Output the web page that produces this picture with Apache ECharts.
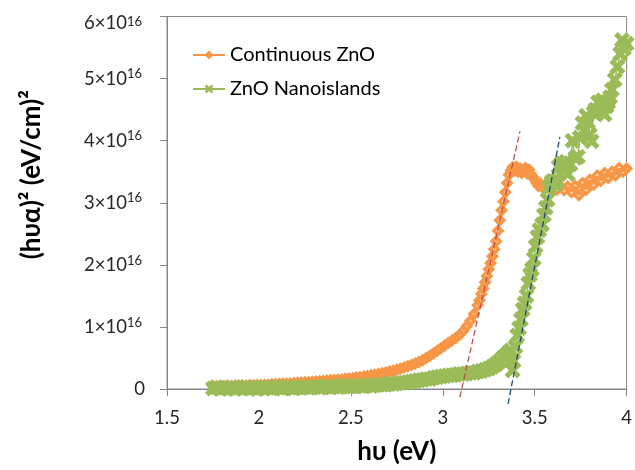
<!DOCTYPE html>
<html><head><meta charset="utf-8">
<script src="https://cdn.jsdelivr.net/npm/echarts@6/dist/echarts.min.js"></script>
<style>html,body{margin:0;padding:0;background:#fff}#c{width:635px;height:470px}</style>
</head><body><div id="c"></div>
<script>
// values in units of 1e16 (eV/cm)^2
const continuousName = 'Continuous ZnO';
const continuousX = [1.75,1.77,1.79,1.81,1.83,1.85,1.87,1.89,1.91,1.93,1.95,1.97,1.99,2.01,2.03,2.05,2.07,2.09,2.11,2.13,2.15,2.17,2.19,2.21,2.23,2.25,2.27,2.29,2.31,2.33,2.35,2.37,2.39,2.41,2.43,2.45,2.47,2.49,2.51,2.53,2.55,2.57,2.59,2.61,2.63,2.65,2.67,2.69,2.71,2.73,2.75,2.77,2.79,2.81,2.83,2.85,2.87,2.89,2.91,2.93,2.95,2.97,2.99,3.01,3.03,3.05,3.07,3.09,3.11,3.13,3.15,3.17,3.19,3.20,3.21,3.22,3.23,3.24,3.25,3.26,3.27,3.28,3.29,3.30,3.31,3.32,3.33,3.34,3.35,3.36,3.37,3.38,3.39,3.40,3.41,3.42,3.43,3.44,3.45,3.46,3.47,3.48,3.49,3.50,3.51,3.52,3.53,3.54,3.56,3.58,3.60,3.62,3.64,3.66,3.68,3.70,3.72,3.74,3.76,3.78,3.80,3.82,3.84,3.86,3.88,3.90,3.92,3.94,3.96,3.98,4.00];
const continuousY = [0.045,0.045,0.045,0.045,0.05,0.05,0.05,0.055,0.055,0.055,0.06,0.06,0.065,0.065,0.065,0.07,0.075,0.075,0.08,0.085,0.085,0.09,0.095,0.10,0.105,0.11,0.11,0.115,0.12,0.125,0.13,0.135,0.14,0.145,0.15,0.155,0.165,0.17,0.175,0.185,0.19,0.20,0.21,0.22,0.23,0.24,0.255,0.265,0.28,0.295,0.31,0.325,0.345,0.365,0.385,0.41,0.435,0.465,0.50,0.535,0.575,0.615,0.655,0.70,0.74,0.78,0.82,0.87,0.93,1.01,1.10,1.21,1.35,1.43,1.53,1.62,1.72,1.82,1.93,2.03,2.14,2.25,2.38,2.55,2.72,2.88,3.02,3.17,3.32,3.45,3.52,3.57,3.52,3.58,3.50,3.55,3.48,3.53,3.56,3.47,3.53,3.46,3.42,3.37,3.32,3.27,3.31,3.25,3.29,3.23,3.28,3.21,3.27,3.20,3.26,3.17,3.27,3.12,3.32,3.21,3.37,3.29,3.44,3.35,3.48,3.40,3.50,3.44,3.56,3.50,3.55];

const nanoName = 'ZnO Nanoislands';
const nanoX = [1.75,1.77,1.79,1.81,1.83,1.85,1.87,1.89,1.91,1.93,1.95,1.97,1.99,2.01,2.03,2.05,2.07,2.09,2.11,2.13,2.15,2.17,2.19,2.21,2.23,2.25,2.27,2.29,2.31,2.33,2.35,2.37,2.39,2.41,2.43,2.45,2.47,2.49,2.51,2.53,2.55,2.57,2.59,2.61,2.63,2.65,2.67,2.69,2.71,2.73,2.75,2.77,2.79,2.81,2.83,2.85,2.87,2.89,2.91,2.93,2.95,2.97,2.99,3.01,3.03,3.05,3.07,3.09,3.11,3.13,3.15,3.17,3.19,3.21,3.23,3.25,3.27,3.29,3.31,3.33,3.35,3.36,3.37,3.38,3.385,3.395,3.405,3.415,3.425,3.435,3.445,3.455,3.465,3.475,3.485,3.495,3.505,3.515,3.525,3.54,3.55,3.56,3.57,3.58,3.59,3.60,3.61,3.62,3.63,3.645,3.66,3.67,3.68,3.695,3.705,3.72,3.735,3.745,3.76,3.77,3.78,3.79,3.80,3.81,3.82,3.83,3.845,3.86,3.87,3.88,3.89,3.90,3.91,3.92,3.935,3.95,3.965,3.975,3.985,4.00];
const nanoY = [0.01,0.03,0.00,0.02,0.01,0.03,0.00,0.02,0.01,0.03,0.01,0.02,0.00,0.03,0.01,0.02,0.01,0.03,0.02,0.01,0.03,0.02,0.01,0.03,0.02,0.03,0.02,0.03,0.04,0.02,0.03,0.04,0.03,0.04,0.03,0.04,0.05,0.04,0.04,0.05,0.05,0.04,0.06,0.05,0.06,0.07,0.07,0.07,0.08,0.08,0.09,0.10,0.10,0.11,0.12,0.13,0.14,0.15,0.16,0.16,0.18,0.19,0.20,0.21,0.22,0.22,0.23,0.24,0.24,0.25,0.26,0.26,0.28,0.29,0.31,0.33,0.36,0.40,0.45,0.51,0.56,0.59,0.62,0.30,0.45,0.68,0.86,0.98,1.12,1.28,1.38,1.50,1.70,1.84,1.93,2.10,2.30,2.45,2.56,2.65,2.80,2.92,3.05,3.25,3.33,3.35,3.30,3.36,3.58,3.64,3.55,3.66,3.46,3.62,4.00,3.72,3.74,4.05,4.28,4.17,4.40,4.30,4.10,3.99,4.45,4.50,4.62,4.49,4.65,4.42,4.55,4.62,4.70,4.82,4.98,5.19,5.40,5.62,5.48,5.56];

const tangentContX = [3.093, 3.420];
const tangentContY = [-0.13, 4.15];
const tangentNanoX = [3.355, 3.637];
const tangentNanoY = [-0.24, 4.06];

const xTickValues = [1.5, 2, 2.5, 3, 3.5, 4];
const yExponent = 16;

const zip = (xs, ys) => xs.map((x, i) => [x, ys[i]]);
const FONT = 'Lato';
const ORANGE = '#F79646', GREEN = '#9BBB59';
const diamondRing = 'path://M5,0 L10,5 L5,10 L0,5 Z M5,3.7 L3.7,5 L5,6.3 L6.3,5 Z';
const xShape = 'path://M0,2.3 L2.3,0 L5,2.7 L7.7,0 L10,2.3 L7.3,5 L10,7.7 L7.7,10 L5,7.3 L2.3,10 L0,7.7 L2.7,5 Z';

const chart = echarts.init(document.getElementById('c'), null, {renderer: 'canvas'});
chart.setOption({
  animation: false,
  backgroundColor: '#fff',
  grid: {left: 167, right: 3, top: 16, bottom: 80, show: true, borderColor: '#868686', borderWidth: 1, backgroundColor: 'transparent'},
  legend: {
    orient: 'vertical', left: 187, top: 40, itemWidth: 32, itemHeight: 11, itemGap: 14,
    data: [continuousName, nanoName],
    textStyle: {fontFamily: FONT, fontSize: 20, color: '#000'}
  },
  xAxis: {
    type: 'value', min: xTickValues[0], max: xTickValues[xTickValues.length - 1], interval: 0.5,
    name: 'h\u03c5 (eV)', nameLocation: 'middle', nameGap: 50,
    nameTextStyle: {fontFamily: FONT, fontSize: 26, fontWeight: 'bold', color: '#000'},
    axisLine: {lineStyle: {color: '#868686', width: 1}},
    axisTick: {show: true, length: 7, inside: false, lineStyle: {color: '#868686'}},
    axisLabel: {fontFamily: FONT, fontSize: 18.5, color: '#262626', margin: 20, showMaxLabel: true, showMinLabel: true},
    splitLine: {show: false}
  },
  yAxis: {
    type: 'value', min: 0, max: 6, interval: 1,
    name: '(h\u03c5\u03b1)\u00b2 (eV/cm)\u00b2', nameLocation: 'middle', nameGap: 122,
    nameTextStyle: {fontFamily: FONT, fontSize: 26, fontWeight: 'bold', color: '#000', padding: [0, 0, 0, 56]},
    axisLine: {show: true, lineStyle: {color: '#868686', width: 1}},
    axisTick: {show: true, length: 7, inside: false, lineStyle: {color: '#868686'}},
    axisLabel: {
      margin: 22,
      formatter: function (v) {
        if (v === 0) return '{z|0}';
        if (v === 6) return '{t|' + v + '\u00d710}{ts|' + yExponent + '}';
        return '{a|' + v + '\u00d710}{s|' + yExponent + '}';
      },
      rich: {
        z: {fontFamily: FONT, fontSize: 18.5, color: '#262626', lineHeight: 22},
        a: {fontFamily: FONT, fontSize: 18.5, color: '#262626', lineHeight: 22},
        s: {fontFamily: FONT, fontSize: 13, color: '#262626', lineHeight: 12, verticalAlign: 'top', padding: [0, 3, 0, 0]},
        t: {fontFamily: FONT, fontSize: 18.5, color: '#262626', lineHeight: 22, padding: [14, 0, 0, 0]},
        ts: {fontFamily: FONT, fontSize: 13, color: '#262626', lineHeight: 12, verticalAlign: 'top', padding: [10, 3, 0, 0]}
      }
    },
    splitLine: {show: false}
  },
  series: [
    {
      name: continuousName, type: 'line', data: zip(continuousX, continuousY),
      symbol: diamondRing, symbolSize: 13,
      itemStyle: {color: ORANGE},
      lineStyle: {color: ORANGE, width: 1.5},
      z: 2
    },
    {
      name: nanoName, type: 'line', data: zip(nanoX, nanoY),
      symbol: xShape, symbolSize: 16,
      itemStyle: {color: GREEN},
      lineStyle: {color: GREEN, width: 1.5},
      z: 3
    },
    {
      name: 'tangent1', type: 'line', data: zip(tangentContX, tangentContY), clip: false,
      symbol: 'none', silent: true,
      lineStyle: {color: '#C0504D', width: 1.3, type: [6, 3]}, z: 4
    },
    {
      name: 'tangent2', type: 'line', data: zip(tangentNanoX, tangentNanoY), clip: false,
      symbol: 'none', silent: true,
      lineStyle: {color: '#1F497D', width: 1.3, type: [6, 3]}, z: 4
    }
  ]
});
</script></body></html>
